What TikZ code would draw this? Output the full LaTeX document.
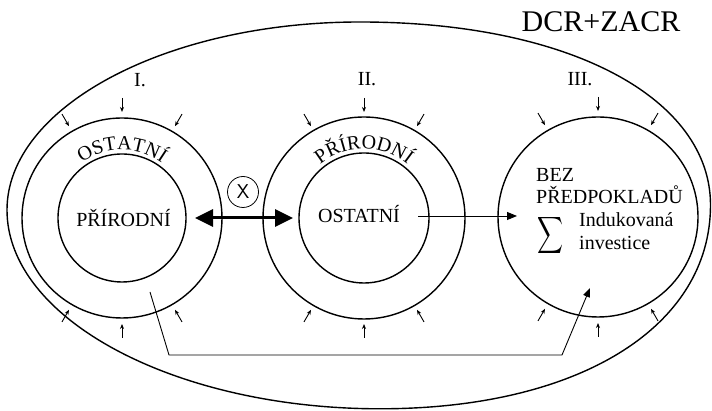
\documentclass[tikz,border=0pt]{standalone}
\usepackage{fontspec}
\setmainfont{Liberation Serif}
\usetikzlibrary{arrows.meta,calc,decorations.text}
\begin{document}
\begin{tikzpicture}[x=1pt,y=1pt,
  ring/.style={circle,draw,line width=1.4pt,inner sep=0pt,outer sep=0pt},
  lbl/.style={font=\fontsize{20}{24}\selectfont,inner sep=0pt},
  tick/.style={line width=0.9pt,-{Stealth[length=5pt,width=4pt]}},
  link/.style={line width=0.9pt},
  curvetext/.style={decorate,decoration={text along path,text align=center,text={|\fontsize{20}{24}\selectfont|#1}}}]
\useasboundingbox (0,0) rectangle (712,411);
% outer egg
\coordinate (eL) at (7,201);
\coordinate (eT) at (360,389);
\coordinate (eR) at (710.5,206);
\coordinate (eB) at (380,2.2);
\draw[line width=1.4pt] (eL) .. controls (7,304) and (166,389) .. (eT)
  .. controls (571,389) and (710.5,312) .. (eR)
  .. controls (710.5,84) and (579,2.2) .. (eB)
  .. controls (175,2.2) and (7,92) .. (eL) -- cycle;
% circles
\node[ring,minimum size=200pt] (c1o) at (122,193) {};
\node[ring,minimum size=128pt] (c1i) at (122,193) {};
\node[ring,minimum size=202pt] (c2o) at (364,193) {};
\node[ring,minimum size=130pt] (c2i) at (364,193) {};
\node[ring,minimum size=200pt] (c3) at (598,194) {};
% small inward arrows
\foreach \c in {c1o,c2o,c3}{
  \foreach \a in {60,90,120,240,270,300}{
    \draw[tick] ($(\c.center)+(\a:120)$) -- ($(\c.center)+(\a:106)$);
  }
}
% curved labels
\path[curvetext=OSTATNÍ] ($(c1i.center)+(170:68)$) arc[start angle=170,end angle=10,radius=68];
\path[curvetext=PŘÍRODNÍ] ($(c2i.center)+(170:69)$) arc[start angle=170,end angle=10,radius=69];
% roman labels
\node[lbl,anchor=base] (l1) at (140,324) {I.};
\node[lbl,anchor=base] (l2) at (367,325) {II.};
\node[lbl,anchor=base] (l3) at (580,325) {III.};
\node[inner sep=0pt,anchor=base,font=\fontsize{30}{36}\selectfont] (title) at (601,379) {DCR+ZACR};
% inner texts
\node[lbl,anchor=base] (t1) at (123.5,184) {PŘÍRODNÍ};
\node[lbl,anchor=base] (t2) at (359,188) {OSTATNÍ};
\node[lbl,anchor=base west] (t3a) at (536,229) {BEZ};
\node[lbl,anchor=base west] (t3b) at (536,207) {PŘEDPOKLADŮ};
\node[inner sep=0pt] (sig) at (550,175) {\resizebox{26pt}{27pt}{$\displaystyle\sum$}};
\node[lbl,anchor=base west] (t3c) at (579,184) {Indukovaná};
\node[lbl,anchor=base west] (t3d) at (579,161) {investice};
% double arrow and X
\draw[line width=3pt,{Triangle[length=18pt,width=17pt]}-{Triangle[length=18pt,width=17pt]},shorten <=9pt,shorten >=6pt]
  (c1i.east) -- (c2i.west);
\node[circle,draw,line width=0.8pt,minimum size=31pt,inner sep=0pt,font=\sffamily\fontsize{20}{24}\selectfont] (x) at (243,219) {X};
% arrow II -> III
\coordinate (a3) at (517,195);
\coordinate (a2) at (418,195);
\draw[link,-{Triangle[length=10pt,width=8pt]}] (a2) -- (a3);
% bottom connector
\coordinate (p0) at (150,119);
\coordinate (p1) at (169,56);
\coordinate (p2) at (562,56);
\coordinate (p3) at (590,123);
\draw[link,-{Triangle[length=9pt,width=7pt]}] (p0) -- (p1) -- (p2) -- (p3);
\end{tikzpicture}
\end{document}
